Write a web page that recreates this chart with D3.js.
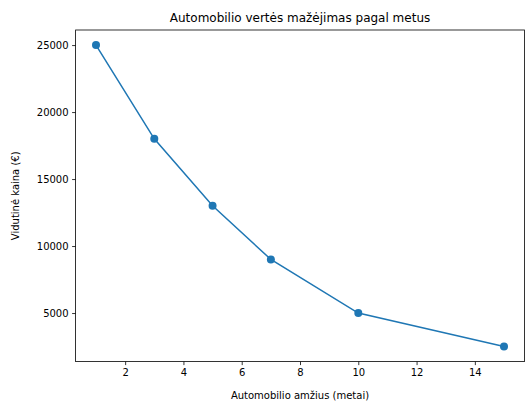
<!DOCTYPE html>
<html><head><meta charset="utf-8">
<script src="https://cdn.jsdelivr.net/npm/d3@7"></script>
<style>body{margin:0;background:#fff}text{font-family:"DejaVu Sans",sans-serif}</style>
</head><body>
<svg id="c" width="531" height="410"></svg>
<script>
const ages=[1,3,5,7,10,15];
const prices=[25000,18000,13000,9000,5000,2500];
const xTicks=[2,4,6,8,10,12,14];
const yTicks=[5000,10000,15000,20000,25000];
const L=75.6,R=524.4,T=30,B=361.6;
const svg=d3.select("#c");
const x=d3.scaleLinear().domain([0.3,15.7]).range([L,R]);
const y=d3.scaleLinear().domain([1375,26125]).range([B,T]);
const c="#1f77b4";
const gx=svg.append("g").attr("transform",`translate(0,${B})`).call(d3.axisBottom(x).tickValues(xTicks).tickSize(3.5).tickPadding(3.5).tickFormat(d3.format("d")));
const gy=svg.append("g").attr("transform",`translate(${L},0)`).call(d3.axisLeft(y).tickValues(yTicks).tickSize(3.5).tickPadding(3.5).tickFormat(d3.format("d")));
[gx,gy].forEach(g=>{g.select(".domain").remove();g.selectAll("text").attr("font-size",10).attr("fill","#000").style("font-family","DejaVu Sans");g.selectAll("line").attr("stroke","#000").attr("stroke-width",0.8);});
svg.append("rect").attr("x",L).attr("y",T).attr("width",R-L).attr("height",B-T).attr("fill","none").attr("stroke","#000").attr("stroke-width",0.8);
svg.append("path").datum(ages.map((a,i)=>[a,prices[i]])).attr("fill","none").attr("stroke",c).attr("stroke-width",1.5)
 .attr("d",d3.line().x(d=>x(d[0])).y(d=>y(d[1])));
svg.selectAll("circle").data(ages).enter().append("circle").attr("cx",d=>x(d)).attr("cy",(d,i)=>y(prices[i])).attr("r",4).attr("fill",c);
svg.append("text").attr("x",(L+R)/2).attr("y",T-8).attr("text-anchor","middle").attr("font-size",12).text("Automobilio vertės mažėjimas pagal metus");
svg.append("text").attr("x",(L+R)/2).attr("y",399).attr("text-anchor","middle").attr("font-size",10).text("Automobilio amžius (metai)");
svg.append("text").attr("transform",`translate(19,${(T+B)/2}) rotate(-90)`).attr("text-anchor","middle").attr("font-size",10).text("Vidutinė kaina (€)");
</script></body></html>
